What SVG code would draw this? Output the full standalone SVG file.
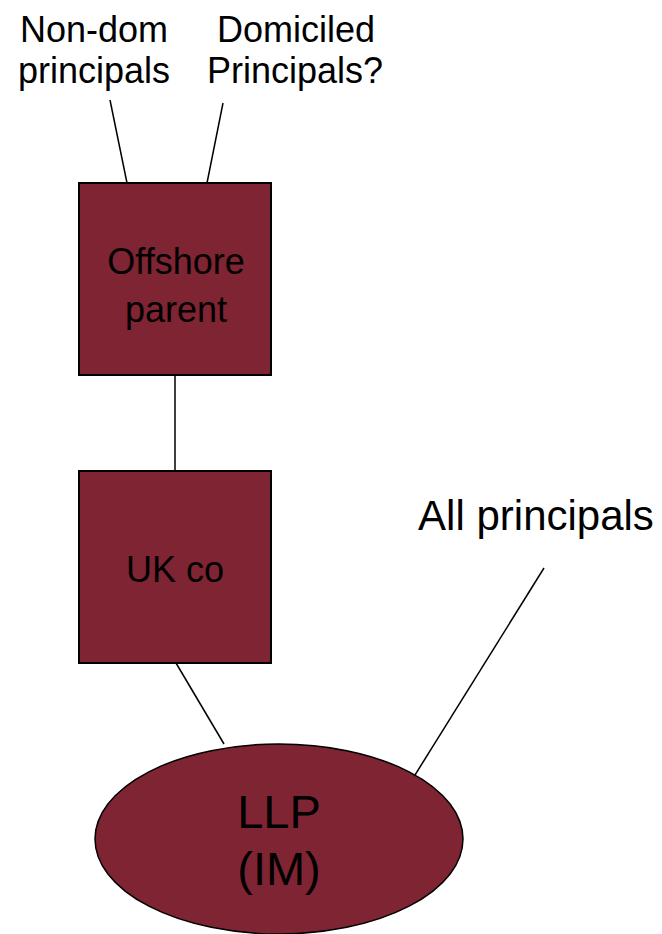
<svg xmlns="http://www.w3.org/2000/svg" width="662" height="934" viewBox="0 0 662 934">
<style>
.node{fill:#7f2433;stroke:#000;stroke-width:2}
.lbl{font-family:"Liberation Sans",Arial,sans-serif;fill:#000;text-anchor:middle}
.conn line{stroke:#000;stroke-width:1.5}
</style>
<rect width="662" height="934" fill="#fff"/>
<g id="connectors" class="conn">
<line x1="110" y1="100" x2="127" y2="183"/>
<line x1="223" y1="103" x2="207" y2="183"/>
<line x1="175" y1="375" x2="175" y2="471"/>
<line x1="176" y1="663" x2="224" y2="744"/>
<line x1="544" y1="568" x2="415" y2="775"/>
</g>
<g id="nondom">
<text class="lbl" x="94" y="42" font-size="36">Non-dom</text>
<text class="lbl" x="94" y="83" font-size="36">principals</text>
</g>
<g id="domiciled">
<text class="lbl" x="296" y="42" font-size="36">Domiciled</text>
<text class="lbl" x="295" y="83" font-size="36">Principals?</text>
</g>
<g id="offshore">
<rect class="node" x="79" y="183" width="192" height="192"/>
<text class="lbl" x="176" y="274" font-size="36">Offshore</text>
<text class="lbl" x="176" y="322" font-size="36">parent</text>
</g>
<g id="ukco">
<rect class="node" x="79" y="471" width="192" height="192"/>
<text class="lbl" x="175" y="582" font-size="36">UK co</text>
</g>
<g id="allprincipals">
<text class="lbl" x="536" y="530" font-size="42">All principals</text>
</g>
<g id="llp">
<ellipse class="node" cx="279" cy="839" rx="184" ry="95" style="stroke-width:1.5"/>
<text class="lbl" x="279" y="828" font-size="47">LLP</text>
<text class="lbl" x="279" y="885" font-size="47">(IM)</text>
</g>
</svg>
